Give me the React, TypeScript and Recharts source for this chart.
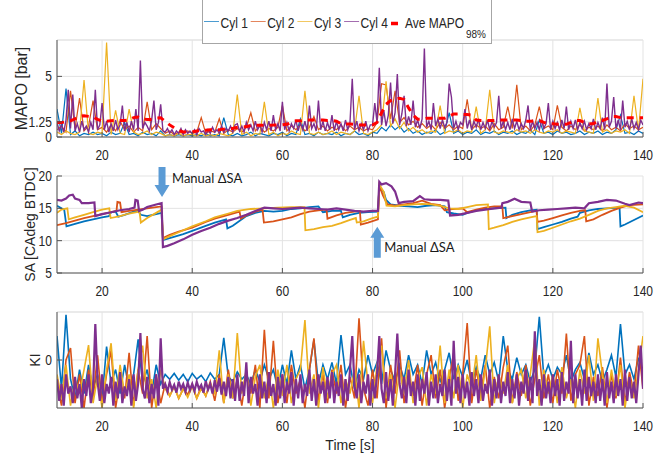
import React from 'react';
import { LineChart, Line, XAxis, YAxis, CartesianGrid, ReferenceLine, ReferenceDot } from 'recharts';

// time base of the MAPO and KI traces, cylinders 1-3 [s]
const time = [
  10, 11, 12, 13, 14, 15, 16, 17, 18, 19,
  20, 21, 22, 23, 24, 25, 26, 27, 28, 29,
  30, 31, 32, 33, 34, 35, 36, 37, 38, 39,
  40, 41, 42, 43, 44, 45, 46, 47, 48, 49,
  50, 51, 52, 53, 54, 55, 56, 57, 58, 59,
  60, 61, 62, 63, 64, 65, 66, 67, 68, 69,
  70, 71, 72, 73, 74, 75, 76, 77, 78, 79,
  80, 81, 82, 83, 84, 85, 86, 87, 88, 89,
  90, 91, 92, 93, 94, 95, 96, 97, 98, 99,
  100, 101, 102, 103, 104, 105, 106, 107, 108, 109,
  110, 111, 112, 113, 114, 115, 116, 117, 118, 119,
  120, 121, 122, 123, 124, 125, 126, 127, 128, 129,
  130, 131, 132, 133, 134, 135, 136, 137, 138, 139,
  140,
];

// finer time base for cylinder 4, drawn on top [s]
const fineTime = [
  10, 10.5, 11, 11.5, 12, 12.5, 13, 13.5, 14, 14.5, 15, 15.5, 16, 16.5, 17, 17.5, 18, 18.5, 19, 19.5,
  20, 20.5, 21, 21.5, 22, 22.5, 23, 23.5, 24, 24.5, 25, 25.5, 26, 26.5, 27, 27.5, 28, 28.5, 29, 29.5,
  30, 30.5, 31, 31.5, 32, 32.5, 33, 33.5, 34, 34.5, 35, 35.5, 36, 36.5, 37, 37.5, 38, 38.5, 39, 39.5,
  40, 40.5, 41, 41.5, 42, 42.5, 43, 43.5, 44, 44.5, 45, 45.5, 46, 46.5, 47, 47.5, 48, 48.5, 49, 49.5,
  50, 50.5, 51, 51.5, 52, 52.5, 53, 53.5, 54, 54.5, 55, 55.5, 56, 56.5, 57, 57.5, 58, 58.5, 59, 59.5,
  60, 60.5, 61, 61.5, 62, 62.5, 63, 63.5, 64, 64.5, 65, 65.5, 66, 66.5, 67, 67.5, 68, 68.5, 69, 69.5,
  70, 70.5, 71, 71.5, 72, 72.5, 73, 73.5, 74, 74.5, 75, 75.5, 76, 76.5, 77, 77.5, 78, 78.5, 79, 79.5,
  80, 80.5, 81, 81.5, 82, 82.5, 83, 83.5, 84, 84.5, 85, 85.5, 86, 86.5, 87, 87.5, 88, 88.5, 89, 89.5,
  90, 90.5, 91, 91.5, 92, 92.5, 93, 93.5, 94, 94.5, 95, 95.5, 96, 96.5, 97, 97.5, 98, 98.5, 99, 99.5,
  100, 100.5, 101, 101.5, 102, 102.5, 103, 103.5, 104, 104.5, 105, 105.5, 106, 106.5, 107, 107.5, 108, 108.5, 109, 109.5,
  110, 110.5, 111, 111.5, 112, 112.5, 113, 113.5, 114, 114.5, 115, 115.5, 116, 116.5, 117, 117.5, 118, 118.5, 119, 119.5,
  120, 120.5, 121, 121.5, 122, 122.5, 123, 123.5, 124, 124.5, 125, 125.5, 126, 126.5, 127, 127.5, 128, 128.5, 129, 129.5,
  130, 130.5, 131, 131.5, 132, 132.5, 133, 133.5, 134, 134.5, 135, 135.5, 136, 136.5, 137, 137.5, 138, 138.5, 139, 139.5,
  140,
];

// MAPO [bar]
const mapoCyl1 = [
  2.3, 0.3, 4.0, 0.2, 0.5, 0.1, 0.3, 0.2, 0.4, 0.2,
  0.3, 0.1, 0.4, 0.2, 0.3, 1.2, 0.2, 0.3, 0.1, 0.4,
  0.2, 0.3, 0.1, 0.5, 0.1, 0.2, 0.1, 0.2, 0.1, 0.2,
  0.1, 0.2, 0.1, 0.3, 0.1, 0.2, 0.1, 1.6, 0.2, 0.1,
  0.3, 0.1, 0.2, 0.4, 0.1, 0.3, 0.2, 0.1, 0.3, 0.2,
  0.4, 0.1, 0.3, 0.2, 1.5, 0.2, 0.3, 0.1, 0.4, 0.2,
  0.3, 0.2, 0.4, 0.1, 0.3, 0.2, 0.5, 0.2, 0.3, 0.1,
  0.4, 0.3, 0.8, 0.5, 1.0, 0.6, 0.9, 0.4, 0.7, 0.3,
  0.5, 0.2, 0.4, 0.3, 0.6, 0.2, 0.4, 2.0, 0.3, 0.5,
  0.2, 0.4, 0.3, 0.6, 0.2, 0.4, 0.3, 0.5, 0.2, 0.4,
  0.3, 0.5, 0.2, 0.4, 0.3, 0.6, 0.2, 1.4, 0.3, 0.4,
  0.2, 0.5, 0.3, 0.4, 0.2, 0.3, 0.5, 0.2, 0.4, 0.3,
  0.5, 0.2, 0.4, 0.3, 0.6, 1.8, 0.3, 0.4, 0.2, 0.5,
  0.3,
];
const mapoCyl2 = [
  0.6, 0.9, 0.4, 3.8, 0.7, 3.2, 0.5, 0.9, 3.0, 0.6,
  0.8, 0.4, 1.0, 0.5, 1.3, 0.6, 0.9, 0.4, 0.8, 0.5,
  2.9, 0.6, 1.1, 0.7, 0.3, 0.5, 0.2, 0.4, 0.3, 0.5,
  0.3, 0.4, 1.6, 0.3, 0.5, 0.4, 1.5, 0.3, 0.6, 0.4,
  0.7, 0.4, 0.8, 2.0, 0.5, 0.9, 0.4, 0.7, 0.5, 0.8,
  2.6, 0.5, 0.9, 0.6, 1.0, 0.5, 0.8, 1.7, 0.6, 0.9,
  0.5, 0.8, 0.6, 1.0, 0.5, 0.9, 0.6, 0.8, 0.5, 0.7,
  0.6, 1.2, 4.4, 4.3, 1.5, 3.8, 1.2, 1.6, 1.0, 1.3,
  0.8, 1.1, 0.7, 1.0, 0.6, 1.2, 0.7, 1.0, 0.6, 0.9,
  0.7, 3.1, 0.6, 1.0, 0.7, 0.9, 0.5, 1.1, 0.6, 0.8,
  2.5, 0.7, 4.3, 0.6, 0.9, 0.5, 1.0, 2.5, 0.7, 0.9,
  0.6, 2.6, 0.8, 0.5, 0.9, 0.6, 1.0, 0.5, 0.8, 0.6,
  0.9, 0.5, 1.0, 0.6, 0.8, 0.5, 1.1, 0.7, 0.9, 0.6,
  0.8,
];
const mapoCyl3 = [
  0.4, 0.2, 0.5, 0.3, 0.2, 0.4, 4.7, 0.3, 0.2, 0.4,
  0.3, 7.8, 0.2, 2.2, 0.3, 0.2, 2.3, 0.4, 0.2, 0.3,
  0.5, 0.2, 0.4, 0.3, 0.1, 0.2, 0.1, 0.3, 0.1, 0.2,
  0.2, 0.1, 0.3, 0.1, 0.2, 0.1, 0.3, 0.2, 0.1, 0.3,
  3.5, 0.2, 0.4, 0.1, 0.3, 0.2, 2.9, 0.2, 0.4, 0.1,
  0.3, 0.2, 0.5, 0.3, 0.2, 3.8, 0.3, 0.2, 0.4, 0.2,
  0.3, 0.5, 0.2, 0.4, 0.3, 0.2, 0.5, 3.4, 0.3, 0.2,
  0.4, 0.6, 1.0, 4.6, 0.9, 1.5, 0.7, 1.2, 0.5, 0.8,
  0.4, 0.6, 0.3, 0.5, 0.4, 2.6, 0.3, 0.5, 0.4, 0.6,
  0.3, 0.5, 0.4, 2.5, 0.3, 0.6, 3.9, 0.4, 0.3, 0.5,
  0.4, 0.3, 0.6, 0.4, 0.5, 0.3, 0.6, 0.4, 0.3, 0.5,
  0.4, 0.6, 0.3, 0.5, 0.4, 0.3, 2.4, 0.5, 0.4, 0.3,
  3.2, 0.4, 0.6, 0.3, 0.5, 0.4, 0.6, 0.3, 3.4, 0.5,
  4.8,
];
// cylinder 4 on fineTime
const mapoCyl4 = [
  1.2, 0.5, 1.0, 0.4, 1.4, 3.9, 0.7, 3.5, 0.5, 1.1, 0.4, 1.3, 0.6, 0.9, 0.4, 1.2, 0.6, 3.9, 0.6, 1.0,
  2.8, 0.6, 1.3, 0.4, 1.1, 0.5, 1.4, 0.6, 1.0, 2.6, 0.5, 1.2, 0.4, 1.3, 0.6, 2.3, 0.5, 6.3, 0.7, 1.2,
  0.9, 0.5, 1.4, 3.0, 0.6, 1.2, 2.7, 0.5, 0.4, 0.7, 0.3, 0.6, 0.2, 0.5, 0.3, 0.7, 0.2, 0.6, 0.3, 0.5,
  0.3, 0.6, 0.2, 0.7, 0.4, 0.5, 0.2, 0.6, 0.3, 0.8, 0.4, 0.6, 0.3, 0.9, 0.4, 0.7, 0.5, 0.9, 0.4, 1.0,
  1.1, 0.5, 0.9, 0.4, 1.2, 0.6, 1.0, 0.5, 1.3, 0.6, 1.0, 0.4, 1.2, 0.6, 1.3, 0.5, 1.8, 0.6, 1.1, 0.5,
  2.9, 0.6, 1.2, 0.5, 1.1, 0.7, 1.4, 0.5, 1.2, 0.6, 1.3, 0.5, 2.6, 0.7, 1.1, 0.5, 3.0, 0.6, 1.3, 0.5,
  1.2, 0.6, 1.8, 0.5, 1.3, 0.6, 1.1, 0.5, 1.4, 0.6, 1.2, 4.8, 0.6, 1.3, 0.5, 1.1, 0.6, 1.3, 0.5, 1.0,
  1.0, 2.8, 1.2, 5.7, 1.0, 2.2, 0.9, 1.8, 4.5, 1.1, 2.0, 5.2, 1.0, 1.9, 3.4, 0.9, 1.7, 1.0, 3.0, 0.8,
  1.4, 0.7, 1.5, 7.3, 0.8, 1.3, 0.6, 2.8, 0.9, 1.5, 0.7, 1.4, 0.8, 1.2, 4.4, 3.3, 0.7, 1.3, 0.6, 1.2,
  1.0, 2.3, 0.7, 1.4, 0.6, 1.3, 0.8, 1.5, 0.6, 1.2, 0.7, 1.4, 0.6, 1.3, 0.8, 1.2, 3.4, 0.7, 1.3, 0.6,
  1.2, 0.6, 1.5, 0.7, 1.3, 0.6, 1.1, 0.7, 1.4, 2.6, 0.6, 1.3, 0.7, 1.2, 0.6, 1.4, 0.7, 1.1, 2.8, 0.6,
  1.3, 0.7, 1.2, 0.6, 1.4, 0.7, 2.5, 0.6, 1.3, 0.7, 1.4, 0.6, 1.2, 0.7, 1.3, 0.6, 1.1, 0.7, 1.5, 0.6,
  1.2, 0.7, 1.6, 0.6, 4.4, 0.8, 1.3, 3.3, 0.7, 1.4, 0.6, 3.0, 0.8, 1.3, 0.6, 1.5, 0.7, 1.2, 0.6, 1.4,
  1.0,
];
const mapoAve = [
  1.2, 1.2, 1.25, 1.33, 1.5, 1.7, 1.75, 1.7, 1.65, 1.45,
  1.3, 1.3, 1.35, 1.36, 1.36, 1.36, 1.4, 1.6, 1.65, 1.5,
  1.44, 1.45, 1.55, 1.58, 1.3, 1.0, 0.75, 0.55, 0.42, 0.42,
  0.42, 0.5, 0.55, 0.55, 0.6, 0.6, 0.6, 0.65, 0.7, 0.7,
  0.8, 0.85, 0.85, 0.95, 0.97, 0.97, 0.97, 0.97, 0.98, 1.0,
  1.0, 1.05, 1.2, 1.33, 1.33, 1.4, 1.4, 1.4, 1.4, 1.4,
  1.36, 1.36, 1.3, 1.1, 1.08, 1.08, 1.05, 1.0, 1.0, 1.0,
  1.0, 1.2, 2.0, 2.7, 3.0, 3.1, 3.2, 3.1, 2.4, 1.8,
  1.47, 1.47, 1.55, 1.55, 1.55, 1.55, 1.55, 1.7, 1.9, 1.9,
  1.85, 1.85, 1.8, 1.4, 1.36, 1.36, 1.36, 1.36, 1.4, 1.4,
  1.4, 1.4, 1.4, 1.35, 1.3, 1.3, 1.33, 1.36, 1.2, 1.1,
  1.1, 1.05, 1.05, 1.05, 1.2, 1.36, 1.36, 1.2, 1.1, 1.1,
  1.3, 1.36, 1.5, 1.69, 1.69, 1.6, 1.58, 1.58, 1.58, 1.58,
  1.58,
];

// spark advance [CAdeg BTDC] as [time, value] breakpoints
const saCyl1: [number, number][] = [
  [10, 15.4], [10.5, 15.2], [11, 15.0], [11.6, 14.8], [12.1, 12.2], [14, 12.6], [16, 13.0], [18, 13.3],
  [20, 13.6], [21.5, 13.8], [22, 14.4], [23, 14.5], [23.6, 13.7], [25, 14.0], [27, 14.5], [28, 14.6],
  [28.6, 14.0], [30, 13.8], [32, 14.1], [33.2, 14.3], [33.5, 10.1], [35, 10.4], [38, 11.0], [40, 11.5],
  [43, 12.3], [45, 12.8], [47.5, 13.3], [47.8, 11.9], [49, 12.3], [52, 13.8], [54, 14.3], [56, 14.6],
  [58, 14.5], [60, 14.6], [62, 14.9], [64, 15.0], [66, 15.2], [68, 15.3], [69, 14.4], [71, 14.6],
  [73, 14.6], [73.4, 13.6], [75, 14.0], [77, 14.3], [79, 14.4], [81.2, 14.5], [81.5, 18.2], [82.5, 17.5],
  [83, 16.3], [84, 15.6], [86, 15.4], [88, 15.3], [90, 15.2], [92, 15.4], [94, 15.5], [96, 15.3],
  [96.5, 14.4], [98, 14.2], [100, 14.0], [101, 14.3], [103, 14.7], [105, 14.9], [107, 15.0], [109.5, 15.1],
  [109.7, 13.5], [111, 14.0], [113, 14.4], [115, 14.7], [116.4, 14.8], [116.6, 11.8], [118, 12.1], [120, 12.5],
  [122, 12.9], [124, 13.4], [125.5, 13.7], [126, 14.3], [128, 14.7], [130, 14.9], [132, 15.0], [134.8, 15.1],
  [135, 12.2], [136, 12.5], [138, 13.2], [140, 13.9],
];
const saCyl2: [number, number][] = [
  [10, 12.4], [12, 12.7], [14, 13.1], [16, 13.5], [18, 13.8], [20, 14.1], [22, 14.4], [23.2, 14.6],
  [23.4, 16.0], [24, 15.9], [24.3, 14.4], [26, 14.6], [28, 14.8], [30, 15.0], [32, 15.2], [33.2, 15.3],
  [33.5, 10.4], [35, 10.9], [37, 11.4], [40, 12.0], [43, 12.9], [45, 13.4], [48, 14.0], [50.5, 14.5],
  [50.8, 13.4], [52, 13.9], [54, 14.5], [55.6, 14.8], [55.9, 12.8], [58, 13.0], [60, 13.3], [62, 13.6],
  [64, 14.1], [66, 14.5], [68, 14.7], [69.8, 14.8], [70, 13.4], [72, 13.9], [74, 14.3], [76, 14.5],
  [77.2, 14.6], [77.4, 12.5], [79, 12.8], [81.2, 13.3], [81.5, 18.5], [82.3, 17.0], [83.3, 15.6], [85, 15.4],
  [87, 15.6], [89, 15.8], [91, 16.2], [93, 15.7], [95, 15.5], [96, 14.7], [98, 14.9], [100, 15.0],
  [101, 14.4], [103, 14.8], [105, 15.1], [107, 15.3], [108.8, 15.3], [109, 13.5], [111, 13.8], [113, 14.1],
  [115, 14.4], [116.4, 14.6], [116.6, 12.9], [118, 13.1], [120, 13.5], [122, 13.9], [124, 14.3], [126, 14.6],
  [127.2, 14.7], [127.4, 13.0], [129, 13.3], [131, 14.0], [133, 14.6], [135, 15.1], [137, 15.5], [140, 15.6],
];
const saCyl3: [number, number][] = [
  [10, 14.3], [11, 14.8], [12.3, 15.0], [12.6, 13.3], [14, 13.6], [16, 14.0], [18, 14.4], [20, 14.8],
  [21.6, 15.0], [21.9, 13.5], [24, 13.8], [26, 14.2], [28.3, 14.5], [28.6, 12.8], [30, 13.5], [32, 14.3],
  [33.2, 14.8], [33.5, 10.2], [35, 10.7], [37, 11.3], [40, 12.2], [43, 13.0], [45, 13.6], [48, 14.2],
  [50, 14.6], [53, 14.9], [56, 15.0], [59, 15.1], [62, 15.2], [64.9, 15.2], [65.1, 11.6], [67, 11.8],
  [69, 12.1], [71, 12.3], [73, 12.7], [75, 13.2], [76.3, 13.5], [76.5, 12.8], [78, 13.0], [80, 13.5],
  [81.2, 13.7], [81.5, 18.7], [82.5, 17.5], [83.1, 15.4], [85, 15.3], [87, 15.5], [89, 15.6], [91, 15.7],
  [93, 15.6], [95, 15.4], [97, 15.0], [99, 14.9], [101, 15.2], [103, 15.5], [105.6, 15.6], [105.8, 11.8],
  [107, 12.0], [109, 12.4], [111, 12.9], [113, 13.3], [115, 13.6], [116.4, 13.8], [116.6, 11.3], [118, 11.5],
  [120, 12.0], [122, 12.5], [124, 13.0], [126, 13.4], [128, 14.0], [130, 14.6], [132, 15.0], [134, 15.2],
  [136, 15.4], [138, 15.1], [140, 14.4],
];
const saCyl4: [number, number][] = [
  [10, 16.3], [11, 16.2], [12, 16.5], [12.7, 17.0], [13.5, 17.1], [14, 16.5], [15, 16.3], [15.5, 15.8],
  [17, 15.8], [18.3, 15.9], [18.5, 13.8], [20, 14.1], [22, 14.4], [24, 14.7], [26, 14.9], [27.2, 15.1],
  [27.4, 16.3], [27.9, 16.2], [28.2, 14.6], [29, 14.8], [30, 15.2], [32, 15.6], [33.2, 15.8], [33.5, 9.0],
  [34.5, 9.2], [36, 9.6], [38, 10.2], [40, 10.9], [42, 11.5], [44, 12.0], [46, 12.6], [48, 13.1],
  [50, 13.5], [52, 14.0], [54, 14.6], [56, 15.1], [58, 15.0], [60, 14.9], [62, 15.0], [64, 15.1],
  [66, 15.0], [68, 14.9], [70, 14.8], [72, 15.0], [74, 14.8], [76, 14.6], [78, 14.5], [80, 14.6],
  [81.2, 14.6], [81.5, 19.1], [82, 18.7], [83, 18.9], [84.2, 18.4], [85, 17.6], [85.8, 15.8], [87, 16.0],
  [89, 16.1], [90.5, 16.9], [91.5, 16.4], [93, 16.3], [95, 16.3], [96.8, 16.2], [97.2, 13.9], [99, 14.0],
  [101, 14.3], [103, 14.6], [105, 14.8], [107, 15.0], [108.6, 15.1], [108.8, 15.8], [110, 16.0], [111.5, 16.5],
  [113, 16.0], [115, 15.9], [115.4, 14.5], [117, 14.7], [119, 14.8], [121, 14.9], [123, 15.0], [125, 15.1],
  [127, 15.0], [128, 15.8], [130, 16.0], [132, 16.3], [134, 16.2], [136, 15.7], [137, 15.5], [139, 15.9],
  [140, 15.8],
];

// knock intensity (only the 0 tick is labelled)
const kiCyl1 = [
  0.5, -0.6, 0.94, -0.4, -0.8, -0.2, -0.7, -0.1, -0.6, -0.3,
  -0.8, 0.28, -0.5, -0.2, -0.7, -0.1, -0.6, -0.3, 0.43, -0.5,
  -0.2, -0.7, -0.1, -0.5, -0.3, -0.4, -0.28, -0.42, -0.3, -0.45,
  -0.28, -0.4, -0.32, -0.45, -0.27, -0.4, -0.3, 0.46, -0.35, -0.45,
  -0.25, -0.4, -0.3, -0.5, -0.2, -0.45, -0.1, -0.4, -0.2, -0.6,
  -0.1, -0.5, 0.2, -0.4, -0.1, -0.6, -0.2, 0.42, -0.5, -0.1,
  -0.4, -0.05, -0.5, 0.52, -0.3, -0.1, -0.6, -0.2, -0.4, 0.1,
  -0.3, -0.05, -0.5, 0.2, -0.2, -0.45, -0.1, -0.4, 0.1, -0.3,
  -0.1, -0.5, 0.2, -0.3, -0.05, -0.45, -0.2, 0.15, -0.4, -0.1,
  -0.35, 0.0, -0.5, -0.15, -0.4, 0.1, -0.3, -0.05, -0.45, 0.5,
  -0.2, -0.4, 0.05, -0.3, -0.1, -0.45, -0.2, 0.9, -0.35, -0.1,
  -0.4, -0.15, -0.3, 0.1, -0.45, -0.2, -0.05, -0.4, 0.15, -0.3,
  -0.1, -0.45, -0.2, 0.1, -0.35, 0.75, -0.3, -0.1, -0.4, 0.05,
  -0.3,
];
const kiCyl2 = [
  -0.5, -0.95, 0.0, 0.25, -0.9, -0.3, -1.0, -0.2, -0.8, 0.1,
  -0.9, -0.3, 0.2, -1.0, -0.4, -0.8, 0.15, -0.95, -0.2, -0.7,
  0.5, -1.0, -0.3, -0.9, -0.5, -0.75, -0.55, -0.8, -0.6, -0.72,
  -0.5, -0.8, -0.55, -0.75, -0.45, -0.85, -0.3, -0.9, -0.2, -0.8,
  -0.4, -0.95, -0.3, -0.7, -0.1, -1.0, 0.63, -0.8, 0.4, -0.9,
  -0.3, -0.9, -0.1, -0.7, -0.4, -1.0, -0.2, 0.45, -0.85, -0.3,
  -0.9, -0.2, -0.7, -0.1, -1.0, -0.35, -0.8, 0.87, -0.6, -0.95,
  -0.2, -0.8, 0.45, -1.0, -0.1, -0.7, 0.2, -0.9, -0.3, -0.75,
  -0.1, -0.95, -0.3, 0.1, -0.8, -0.2, -1.0, -0.4, 0.15, -0.85,
  -0.3, 0.77, -0.9, -0.2, -0.7, -0.1, -1.0, -0.35, -0.8, -0.15,
  0.3, -0.9, -0.25, -0.75, -0.1, -0.95, -0.4, 0.1, -0.8, -0.3,
  -0.9, -0.2, -0.7, 0.55, -0.85, -0.3, -0.1, 0.5, -0.95, -0.35,
  -0.75, -0.15, -1.0, -0.3, -0.8, 0.05, -0.9, -0.25, -0.7, 0.3,
  -0.6,
];
const kiCyl3 = [
  -0.3, -0.8, -0.1, -0.95, -0.4, -0.7, -0.2, 0.31, -0.9, -0.35,
  -1.0, -0.2, 0.35, -0.85, -0.1, -0.7, -0.3, -1.0, -0.2, 0.3,
  -0.8, -0.4, -1.0, -0.2, -0.6, -0.75, -0.55, -0.8, -0.6, -0.78,
  -0.55, -0.8, -0.6, -0.75, -0.5, -0.7, 0.2, -0.9, -0.3, -0.8,
  0.56, -0.7, -0.2, -0.95, -0.35, -0.1, -0.8, -0.3, -1.0, -0.2,
  -0.75, -0.1, -0.9, -0.4, -0.2, 0.83, -0.7, -0.3, -1.0, -0.15,
  -0.8, -0.3, -0.1, -0.9, -0.4, -0.7, -0.2, -1.0, 0.4, -0.5,
  -0.9, -0.1, 0.3, -0.8, -0.3, -1.0, -0.2, -0.7, 0.0, -0.9,
  -0.4, -0.15, -0.95, -0.3, -0.7, 0.3, -0.9, -0.2, -0.8, -0.1,
  -1.0, -0.3, -0.6, 0.1, -0.85, -0.2, 0.7, -0.9, -0.3, -0.7,
  -0.1, -0.9, -0.4, -0.2, -0.8, -0.3, 0.45, -0.95, -0.2, -0.7,
  -0.3, -0.9, -0.15, -0.8, -0.4, -1.0, -0.2, -0.7, 0.1, -0.85,
  0.45, -0.3, -0.9, -0.2, -0.75, -0.1, -1.0, -0.35, -0.8, -0.2,
  0.5,
];
// cylinder 4 on fineTime
const kiCyl4 = [
  -0.4, -0.85, -0.5, -0.95, -0.3, -0.7, -0.55, -0.9, -0.35, -0.8, -0.5, -1.0, -0.4, -0.75, -0.3, -0.9, -0.6, 0.75, -0.45, -0.85,
  -0.3, -0.9, -0.5, -0.7, -0.35, -0.95, -0.45, -0.8, -0.25, -0.9, -0.55, -0.75, -0.4, -0.95, -0.3, -0.85, -0.5, 0.56, -0.6, -0.8,
  -0.35, -0.9, -0.5, -0.8, -0.3, -0.95, 0.45, -0.6, -0.5, -0.66, -0.46, -0.62, -0.52, -0.68, -0.45, -0.6, -0.5, -0.66, -0.47, -0.63,
  -0.5, -0.65, -0.45, -0.6, -0.52, -0.68, -0.44, -0.62, -0.5, -0.7, -0.42, -0.66, -0.38, -0.72, -0.45, -0.75, -0.35, -0.8, -0.4, -0.85,
  -0.3, -0.85, -0.45, -0.75, -0.05, -0.9, -0.35, -0.7, -0.5, -0.95, -0.3, -0.8, -0.45, -0.9, -0.25, -0.75, -0.5, -0.95, -0.35, -0.8,
  -0.3, -0.9, -0.45, -0.7, -0.25, -0.95, -0.4, -0.8, -0.3, -0.9, -0.5, -0.75, -0.2, -0.85, -0.4, -0.95, -0.3, -0.7, -0.45, -0.9,
  -0.35, -0.8, -0.25, -0.9, -0.45, -0.75, -0.3, -0.95, -0.4, -0.85, -0.2, 0.5, -0.55, -0.8, -0.3, -0.9, -0.45, -0.7, -0.3, -0.95,
  -0.4, -0.8, -0.3, 0.5, -0.6, -0.9, -0.25, -0.85, -0.4, -0.95, -0.3, 0.55, -0.5, -0.8, -0.35, -0.9, -0.2, -0.75, -0.45, -0.95,
  -0.3, -0.85, -0.4, -0.7, -0.25, -0.95, -0.45, -0.8, -0.3, -0.9, -0.5, -0.75, -0.2, -0.85, -0.4, -0.95, 0.4, -0.7, -0.35, -0.9,
  -0.3, -0.8, -0.45, -0.95, -0.25, -0.75, -0.4, -0.9, -0.3, -0.85, -0.5, -0.7, -0.2, -0.95, -0.4, -0.8, -0.3, -0.9, -0.45, -0.75,
  -0.25, -0.9, -0.4, -0.8, -0.3, -0.95, -0.45, -0.7, -0.2, -0.85, -0.35, -0.9, 0.6, -0.75, -0.4, -0.95, -0.3, -0.8, -0.45, -0.9,
  -0.3, -0.75, -0.4, -0.95, -0.25, -0.85, -0.45, -0.7, 0.4, -0.9, -0.3, -0.8, -0.4, -0.95, -0.2, -0.85, -0.35, -0.75, -0.45, -0.9,
  -0.3, -0.85, -0.4, -0.95, -0.25, -0.8, -0.45, -0.9, -0.3, -0.75, -0.4, -0.95, -0.2, -0.85, -0.35, -0.8, -0.45, -0.9, -0.3, 0.3,
  -0.6,
];

const cylNames = ['Cyl 1', 'Cyl 2', 'Cyl 3', 'Cyl 4'];
const cylColors = ['#0072BD', '#D95319', '#EDB120', '#7E2F8E'];
const aveName = 'Ave MAPO';
const aveSub = '98%';
const aveColor = '#FF0000';
const annotation = 'Manual ΔSA';

const xTicks = [20, 40, 60, 80, 100, 120, 140];
const mapoTicks = [0, 1.25, 5];
const saTicks = [5, 10, 15, 20];
const kiTicks = [0];

const FONT = '"Liberation Sans", Arial, sans-serif';
const INK = '#262626';
const GRID = '#e3e3e3';
const AXIS = '#555555';
const ARROW = '#5B9BD5';

const XTick = ({ x, y, payload }: any) => (
  <g transform={`translate(${x},${y})`}>
    <text transform="scale(0.86,1)" textAnchor="middle" dy="0.71em" fontSize={14} fill={INK} fontFamily={FONT}>
      {payload.value}
    </text>
  </g>
);

const YTick = ({ x, y, payload }: any) => (
  <g transform={`translate(${x},${y})`}>
    <text transform="scale(0.86,1)" textAnchor="end" dy="0.36em" fontSize={14} fill={INK} fontFamily={FONT}>
      {payload.value}
    </text>
  </g>
);

const yLabel = (text: string, cx: number, size: number) => (props: any) => {
  const vb = props.viewBox || {};
  const cy = vb.y + vb.height / 2;
  return (
    <text x={cx} y={cy} transform={`rotate(-90 ${cx} ${cy})`} textAnchor="middle" dominantBaseline="central"
      fontSize={size} fill={INK} fontFamily={FONT}>
      {text}
    </text>
  );
};

const ArrowDown = ({ cx, cy }: any) => (
  <g>
    <path d={`M${cx - 3.5},${cy - 30} h7 v18 h4 L${cx},${cy} L${cx - 7.5},${cy - 12} h4 Z`} fill={ARROW} />
    <text x={cx + 10} y={cy - 19} dominantBaseline="central" fontSize={13} fill="#1a1a1a" fontFamily="Lato, sans-serif">
      {annotation}
    </text>
  </g>
);

const ArrowUp = ({ cx, cy }: any) => (
  <g>
    <path d={`M${cx},${cy} L${cx + 7},${cy + 11} h-3.5 v20 h-7 v-20 h-3.5 Z`} fill={ARROW} />
    <text x={cx + 7} y={cy + 20} dominantBaseline="central" fontSize={13} fill="#1a1a1a" fontFamily="Lato, sans-serif">
      {annotation}
    </text>
  </g>
);

const xAxisProps = {
  type: 'number' as const,
  dataKey: 't',
  domain: [10, 140],
  ticks: xTicks,
  interval: 0,
  allowDataOverflow: true,
  tick: <XTick />,
  tickSize: -5,
  tickMargin: 18,
  stroke: AXIS,
};

const yAxisCommon = {
  type: 'number' as const,
  interval: 0,
  allowDataOverflow: true,
  width: 57,
  tick: <YTick />,
  tickSize: -5,
  tickMargin: 10,
  stroke: AXIS,
};

export default function App() {
  const mapoRows = time.map((t, i) => ({ t, c1: mapoCyl1[i], c2: mapoCyl2[i], c3: mapoCyl3[i], ave: mapoAve[i] }));
  const mapoFine = fineTime.map((t, i) => ({ t, c4: mapoCyl4[i] }));
  const kiRows = time.map((t, i) => ({ t, c1: kiCyl1[i], c2: kiCyl2[i], c3: kiCyl3[i] }));
  const kiFine = fineTime.map((t, i) => ({ t, c4: kiCyl4[i] }));
  const saSeries = [saCyl1, saCyl2, saCyl3, saCyl4].map((s) => s.map(([t, v]) => ({ t, v })));
  const keys = ['c1', 'c2', 'c3'];

  return (
    <div style={{ position: 'absolute', left: 0, top: 0, width: 655, height: 460, background: '#fff', overflow: 'hidden', fontFamily: FONT }}>
      {/* MAPO */}
      <div style={{ position: 'absolute', left: 0, top: 0 }}>
        <LineChart width={655} height={165} data={mapoRows} margin={{ top: 40, right: 12, bottom: 0, left: 0 }}>
          <CartesianGrid stroke={GRID} />
          <XAxis {...xAxisProps} height={28} />
          <YAxis {...yAxisCommon} domain={[0, 8]} ticks={mapoTicks} label={{ content: yLabel('MAPO [bar]', 21, 16) }} />
          <ReferenceLine y={8} stroke={GRID} />
          {keys.map((k, i) => (
            <Line key={k} dataKey={k} stroke={cylColors[i]} strokeWidth={1.2} dot={false} isAnimationActive={false} />
          ))}
          <Line data={mapoFine} dataKey="c4" stroke={cylColors[3]} strokeWidth={1.4} dot={false} isAnimationActive={false} />
          <Line dataKey="ave" stroke={aveColor} strokeWidth={3} strokeDasharray="7 6" dot={false} isAnimationActive={false} />
        </LineChart>
      </div>

      {/* spark advance */}
      <div style={{ position: 'absolute', left: 0, top: 165 }}>
        <LineChart width={655} height={135} margin={{ top: 11, right: 12, bottom: 0, left: 0 }}>
          <CartesianGrid stroke={GRID} />
          <XAxis {...xAxisProps} height={27} />
          <YAxis {...yAxisCommon} dataKey="v" domain={[5, 20]} ticks={saTicks} label={{ content: yLabel('SA [CAdeg BTDC]', 30, 14) }} />
          {saSeries.map((s, i) => (
            <Line key={cylNames[i]} data={s} dataKey="v" stroke={cylColors[i]} strokeWidth={i === 3 ? 2.2 : 1.8} dot={false} isAnimationActive={false} />
          ))}
          <ReferenceDot x={33.3} y={16.75} r={0} shape={<ArrowDown />} />
          <ReferenceDot x={81.05} y={12.16} r={0} shape={<ArrowUp />} />
        </LineChart>
      </div>

      {/* knock intensity */}
      <div style={{ position: 'absolute', left: 0, top: 300 }}>
        <LineChart width={655} height={160} data={kiRows} margin={{ top: 12, right: 12, bottom: 0, left: 0 }}>
          <CartesianGrid stroke={GRID} />
          <XAxis {...xAxisProps} height={52} label={{ value: 'Time [s]', position: 'insideBottom', offset: 10, fontSize: 14, fill: INK }} />
          <YAxis {...yAxisCommon} domain={[-1, 1]} ticks={kiTicks} label={{ content: yLabel('KI', 35, 14) }} />
          <ReferenceLine y={1} stroke={GRID} />
          {keys.map((k, i) => (
            <Line key={k} dataKey={k} stroke={cylColors[i]} strokeWidth={1.6} dot={false} isAnimationActive={false} />
          ))}
          <Line data={kiFine} dataKey="c4" stroke={cylColors[3]} strokeWidth={2.2} dot={false} isAnimationActive={false} />
        </LineChart>
      </div>

      {/* legend */}
      <svg width={655} height={50} style={{ position: 'absolute', left: 0, top: 0 }}>
        <rect x={202.5} y={-1} width={289} height={44.5} fill="#fff" stroke="#a6a6a6" />
        {cylNames.map((n, i) => {
          const x0 = 204 + i * 46.7;
          return (
            <g key={n}>
              <line x1={x0} x2={x0 + 15} y1={21.5} y2={21.5} stroke={cylColors[i]} strokeOpacity={0.7} strokeWidth={1} />
              <g transform={`translate(${x0 + 16.5},27.5) scale(0.8,1)`}>
                <text x={0} y={0} fontSize={15} fill={INK} fontFamily={FONT}>{n}</text>
              </g>
            </g>
          );
        })}
        <line x1={391} x2={398} y1={23.5} y2={23.5} stroke={aveColor} strokeWidth={3.5} />
        <g transform="translate(405,28) scale(0.8,1)">
          <text x={0} y={0} fontSize={15} fill={INK} fontFamily={FONT}>{aveName}</text>
        </g>
        <g transform="translate(466,37.5) scale(0.95,1)">
          <text x={0} y={0} fontSize={10.5} fill={INK} fontFamily={FONT}>{aveSub}</text>
        </g>
      </svg>
    </div>
  );
}
